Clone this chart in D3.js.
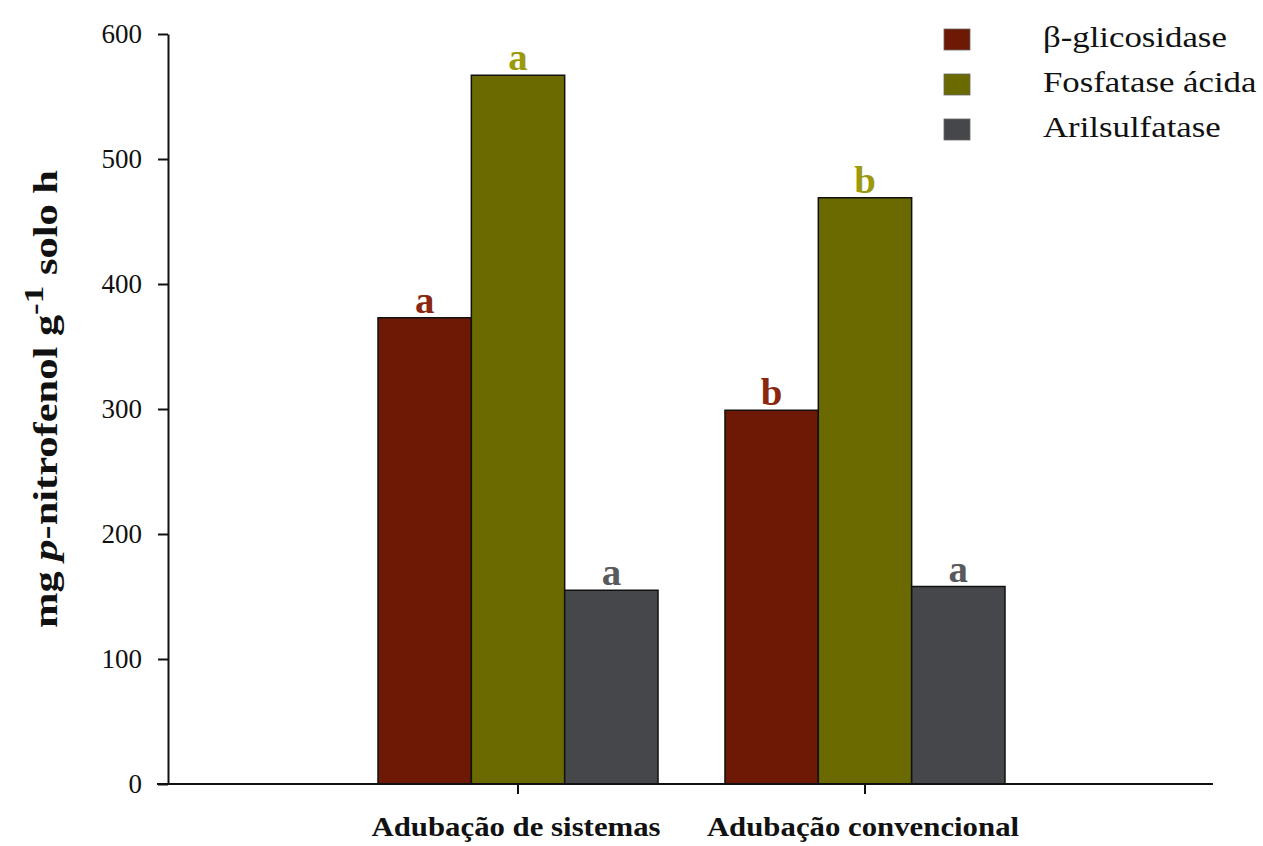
<!DOCTYPE html>
<html>
<head>
<meta charset="utf-8">
<script src="https://cdn.jsdelivr.net/npm/d3@7"></script>
<style>
  html, body { margin: 0; padding: 0; background: #ffffff; }
  svg { display: block; font-family: "Liberation Serif", "Times New Roman", serif; }
</style>
</head>
<body>
<svg id="chart" width="1263" height="846"></svg>
<script>
// Enzyme activity per fertilisation system
const categories = ["Adubação de sistemas", "Adubação convencional"];
const seriesNames = ["β-glicosidase", "Fosfatase ácida", "Arilsulfatase"];
const glicosidase = [373, 299];
const fosfatase = [567, 469];
const arilsulfatase = [155, 158];
const letters = [["a", "b"], ["a", "b"], ["a", "a"]];
const yTicks = [0, 100, 200, 300, 400, 500, 600];

const seriesValues = [glicosidase, fosfatase, arilsulfatase];
const barColors = ["#6e1905", "#6b6a00", "#46474a"];
const letterColors = ["#8a2710", "#9c9a0c", "#58595c"];
const serif = "'Liberation Serif', 'Times New Roman', serif";
const wide = 1.2; // horizontal stretch applied to the legend text

const svg = d3.select("#chart");

const y = d3.scaleLinear().domain([0, 600]).range([784, 34]);
const x0 = d3.scaleBand().domain(categories).range([170, 1213])
  .paddingInner(0.193).paddingOuter(0.5995);
const x1 = d3.scaleBand().domain(seriesNames).range([0, x0.bandwidth()]);

const rows = (c, i) => seriesNames.map((s, j) => ({ s, j, v: seriesValues[j][i], l: letters[j][i] }));

// bars
const groups = svg.append("g").selectAll("g")
  .data(categories)
  .join("g")
  .attr("transform", c => `translate(${x0(c)},0)`);

groups.selectAll("rect")
  .data(rows)
  .join("rect")
  .attr("x", d => x1(d.s))
  .attr("y", d => y(d.v))
  .attr("width", x1.bandwidth())
  .attr("height", d => y(0) - y(d.v))
  .attr("fill", d => barColors[d.j])
  .attr("stroke", "#111")
  .attr("stroke-width", 1.5);

// significance letters above the bars
groups.selectAll("text.sig")
  .data(rows)
  .join("text")
  .attr("class", "sig")
  .attr("transform", d => `translate(${x1(d.s) + x1.bandwidth() / 2},${y(d.v) - 5}) scale(1.05,1)`)
  .attr("text-anchor", "middle")
  .attr("font-size", 37)
  .attr("font-weight", "bold")
  .attr("fill", d => letterColors[d.j])
  .text(d => d.l);

// y axis
const yAxis = svg.append("g")
  .attr("transform", "translate(168,0)")
  .call(d3.axisLeft(y).tickValues(yTicks).tickSize(10).tickSizeOuter(0).tickPadding(16));
yAxis.select(".domain").attr("stroke", "#111").attr("stroke-width", 2);
yAxis.selectAll(".tick line").attr("stroke", "#111").attr("stroke-width", 2);
yAxis.selectAll(".tick text")
  .attr("font-family", serif)
  .attr("font-size", 27)
  .attr("fill", "#111");

// x axis baseline and ticks
svg.append("line")
  .attr("x1", 157).attr("x2", 1213)
  .attr("y1", y(0)).attr("y2", y(0))
  .attr("stroke", "#111").attr("stroke-width", 2);

const xAxis = svg.append("g")
  .attr("transform", `translate(0,${y(0)})`)
  .call(d3.axisBottom(x0).tickSize(10).tickSizeOuter(0).tickFormat(""));
xAxis.select(".domain").remove();
xAxis.selectAll(".tick line").attr("stroke", "#111").attr("stroke-width", 2);

svg.append("g").selectAll("text")
  .data(categories)
  .join("text")
  .attr("transform", c => `translate(${x0(c) + x0.bandwidth() / 2 - 2},836) scale(1.1,1)`)
  .attr("text-anchor", "middle")
  .attr("font-size", 28)
  .attr("font-weight", "bold")
  .attr("fill", "#111")
  .text(c => c);

// y axis title
const yTitle = svg.append("text")
  .attr("transform", "translate(57,399) rotate(-90)")
  .attr("text-anchor", "middle")
  .attr("font-size", 34)
  .attr("font-weight", "bold")
  .attr("fill", "#111")
  .attr("textLength", 458)
  .attr("lengthAdjust", "spacingAndGlyphs");
yTitle.append("tspan").text("mg ");
yTitle.append("tspan").attr("font-style", "italic").text("p");
yTitle.append("tspan").text("-nitrofenol g");
yTitle.append("tspan").attr("dy", -14).attr("font-size", 28).text("-1");
yTitle.append("tspan").attr("dy", 14).text(" solo h");

// legend
const legend = svg.append("g").selectAll("g")
  .data(seriesNames)
  .join("g")
  .attr("transform", (d, i) => `translate(944,${29 + i * 45})`);
legend.append("rect")
  .attr("width", 26).attr("height", 21)
  .attr("fill", (d, i) => barColors[i])
  .attr("stroke", "#666").attr("stroke-width", 0.8);
legend.append("text")
  .attr("transform", `translate(99,18) scale(${wide},1)`)
  .attr("font-size", 29)
  .attr("fill", "#111")
  .text(d => d);
</script>
</body>
</html>
